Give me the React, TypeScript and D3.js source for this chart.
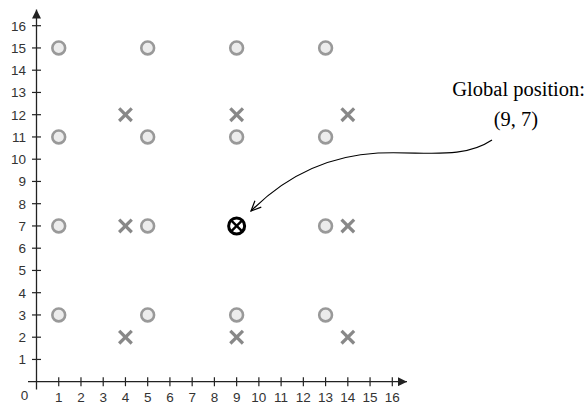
import React from "react";
import * as d3 from "d3";

const ticks = d3.range(1, 17);
const circleX = [1, 5, 9, 13, 1, 5, 9, 13, 1, 5, 13, 1, 5, 9, 13];
const circleY = [15, 15, 15, 15, 11, 11, 11, 11, 7, 7, 7, 3, 3, 3, 3];
const crossX = [4, 9, 14, 4, 14, 4, 9, 14];
const crossY = [12, 12, 12, 7, 7, 2, 2, 2];
const globalPos = [9, 7];
const labelLine1 = "Global position:";
const labelLine2 = "(9, 7)";

export default function App() {
  const W = 586, H = 406;
  const x = d3.scaleLinear().domain([0, 16]).range([36.5, 392.3]);
  const y = d3.scaleLinear().domain([0, 16]).range([381.7, 25.7]);
  const font = "'Liberation Sans', Arial, sans-serif";
  const serif = "'Liberation Serif', 'Times New Roman', serif";
  const ox = x(0), oy = y(0);
  const gx = x(globalPos[0]), gy = y(globalPos[1]);
  const tipX = 251, tipY = 211;
  const path = `M492,140 C462,160 425,151 378,153 C322,156 282,180 ${tipX},${tipY}`;
  const ang = Math.atan2(tipY - 180, tipX - 282);
  const ah = 11, spread = 0.42;
  const a1 = [tipX - ah * Math.cos(ang - spread), tipY - ah * Math.sin(ang - spread)];
  const a2 = [tipX - ah * Math.cos(ang + spread), tipY - ah * Math.sin(ang + spread)];
  const cs = 6.3;
  return (
    <svg width={W} height={H} style={{ position: "absolute", left: 0, top: 0, background: "#fff" }}>
      <defs>
        <marker id="ah" viewBox="0 0 10 10" refX="10" refY="5" markerUnits="userSpaceOnUse" markerWidth="9" markerHeight="9" orient="auto">
          <path d="M0,0 L10,5 L0,10 Z" fill="#222" />
        </marker>
      </defs>
      <line x1={ox} y1={389.5} x2={ox} y2={9.5} stroke="#222" strokeWidth={1.3} markerEnd="url(#ah)" />
      <line x1={28} y1={oy} x2={407} y2={oy} stroke="#222" strokeWidth={1.3} markerEnd="url(#ah)" />
      {ticks.map((t) => (
        <g key={"xt" + t}>
          <line x1={x(t)} x2={x(t)} y1={oy - 4.5} y2={oy + 4.5} stroke="#222" strokeWidth={1.2} />
          <text x={x(t)} y={oy + 20.5} textAnchor="middle" fontFamily={font} fontSize={13.5} fill="#333">{t}</text>
        </g>
      ))}
      {ticks.map((t) => (
        <g key={"yt" + t}>
          <line x1={ox - 4.5} x2={ox + 4.5} y1={y(t)} y2={y(t)} stroke="#222" strokeWidth={1.2} />
          <text x={26} y={y(t) + 5} textAnchor="end" fontFamily={font} fontSize={13.5} fill="#333">{t}</text>
        </g>
      ))}
      <text x={24.5} y={oy + 18.5} textAnchor="middle" fontFamily={font} fontSize={13.5} fill="#333">0</text>
      {circleX.map((cx, i) => (
        <circle key={"c" + i} cx={x(cx)} cy={y(circleY[i])} r={6.4} fill="#ececec" stroke="#999" strokeWidth={2.6} />
      ))}
      {crossX.map((cx, i) => {
        const px = x(cx), py = y(crossY[i]);
        return (
          <g key={"x" + i} stroke="#888" strokeWidth={3.2}>
            <line x1={px - cs} y1={py - cs} x2={px + cs} y2={py + cs} />
            <line x1={px - cs} y1={py + cs} x2={px + cs} y2={py - cs} />
          </g>
        );
      })}
      <circle cx={gx} cy={gy} r={8} fill="#fff" stroke="#000" strokeWidth={3} />
      <g stroke="#000" strokeWidth={2.4}>
        <line x1={gx - 5} y1={gy - 5} x2={gx + 5} y2={gy + 5} />
        <line x1={gx - 5} y1={gy + 5} x2={gx + 5} y2={gy - 5} />
      </g>
      <path d={path} fill="none" stroke="#000" strokeWidth={1.2} />
      <polyline points={`${a1[0]},${a1[1]} ${tipX},${tipY} ${a2[0]},${a2[1]}`} fill="none" stroke="#000" strokeWidth={1.2} />
      <text x={585} y={95.5} textAnchor="end" fontFamily={serif} fontSize={20.5} fill="#000">{labelLine1}</text>
      <text x={516} y={125.5} textAnchor="middle" fontFamily={serif} fontSize={20.5} fill="#000">{labelLine2}</text>
    </svg>
  );
}
